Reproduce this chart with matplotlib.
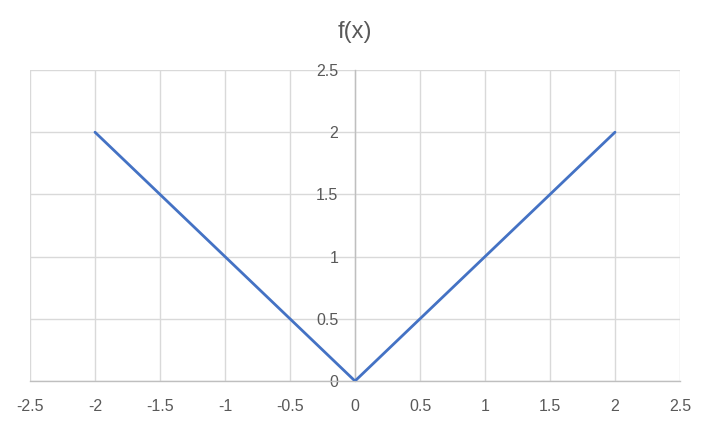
import matplotlib
matplotlib.use("Agg")
import matplotlib.pyplot as plt

x_values = [-2, -1.5, -1, -0.5, 0, 0.5, 1, 1.5, 2]
y_values = [2, 1.5, 1, 0.5, 0, 0.5, 1, 1.5, 2]
x_ticks = [-2.5, -2, -1.5, -1, -0.5, 0, 0.5, 1, 1.5, 2, 2.5]
x_tick_labels = ["-2.5", "-2", "-1.5", "-1", "-0.5", "0", "0.5", "1", "1.5", "2", "2.5"]
y_ticks = [0, 0.5, 1, 1.5, 2, 2.5]
y_tick_labels = ["0", "0.5", "1", "1.5", "2", "2.5"]
title = "f(x)"

plt.rcParams['font.family'] = ['Liberation Sans', 'DejaVu Sans']

fig = plt.figure(figsize=(7.12, 4.24), dpi=100)
ax = fig.add_axes([30/712, 1-381/424, 650/712, 311/424])

ax.plot(x_values, y_values, color="#4472C4", linewidth=2.0, solid_capstyle="round", zorder=3)

ax.set_xlim(-2.5, 2.5)
ax.set_ylim(0, 2.5)
ax.set_xticks(x_ticks)
ax.set_xticklabels(x_tick_labels)
ax.set_yticks(y_ticks)
ax.set_yticklabels(y_tick_labels)

ax.grid(True, color="#d9d9d9", linewidth=1.0, zorder=0)
ax.set_axisbelow(True)

for s in ["top", "right"]:
    ax.spines[s].set_visible(False)
ax.spines["left"].set_position(("data", 0))
ax.spines["left"].set_color("#bfbfbf")
ax.spines["left"].set_linewidth(1.0)
ax.spines["bottom"].set_color("#bfbfbf")
ax.spines["bottom"].set_linewidth(1.0)

ax.tick_params(axis="both", length=0, labelsize=11.5, labelcolor="#595959")
ax.tick_params(axis="x", pad=13)
ax.tick_params(axis="y", pad=12)

fig.text(355/712, 1-32/424, title, ha="center", va="center", fontsize=17, color="#595959")

fig.savefig("out.png", dpi=100)
